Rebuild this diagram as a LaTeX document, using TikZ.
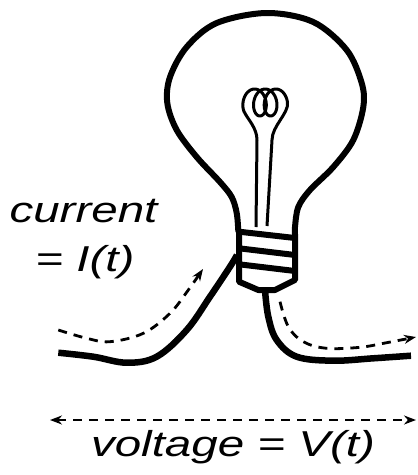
\documentclass[tikz,border=0pt]{standalone}
\usepackage{fontspec}
\setmainfont{Liberation Sans}
\usetikzlibrary{arrows.meta}
\tikzset{ftip/.tip={Stealth[length=12pt,width=9pt]}}
\begin{document}
\begin{tikzpicture}[x=1pt,y=-1pt,
  outline/.style={line width=6pt, line join=round, line cap=round},
  wire/.style={line width=6.5pt, line cap=butt},
  fil/.style={line width=3pt, line cap=butt, line join=round},
  flow/.style={line width=2.8pt, dash pattern=on 9pt off 7pt},
  txt/.style={font=\fontsize{36}{42}\selectfont\itshape, anchor=base, inner sep=0pt}]
\useasboundingbox (0,0) rectangle (418,475);

% glass envelope
\draw[outline] plot[smooth, tension=0.55] coordinates {
  (238.3,231) (236.7,213) (231.7,197) (220,182) (196.7,157) (176.7,130)
  (167.3,103) (170,77) (186.7,47) (216.7,23) (266.7,13) (313.3,22)
  (346.7,50) (361.7,83) (363.3,107) (353.3,140) (333.3,167) (310,190)
  (298.3,207) (295,227) (295,236)};

% screw base
\draw[outline, line cap=butt]
  (239,229) -- (239,281.7) -- (258.3,290) -- (275,290) -- (295,280) -- (295,234);
\draw[outline, line cap=butt] (239,231.7) -- (295,238);
\draw[outline, line cap=butt] (239,248.3) -- (295,255);
\draw[outline, line cap=butt] (239,264.3) -- (295,271);

% filament: two support posts and a looped coil between them
\draw[fil] (256,227) -- (257,140)
  .. controls (257,128) and (248,119.6) .. (244.3,112)
  -- plot[smooth, samples=120, domain=-0.785:15.708]
     ({251.9+1.7*\x-8.9*cos(\x r)}, {102.5-13.5*sin(\x r)})
  .. controls (288.9,113.3) and (272,126) .. (272,140) -- (267,226);

% lead wires
\coordinate (lwA) at (58.3,352.7);
\coordinate (lwB) at (237,255);
\coordinate (rwA) at (265,290);
\coordinate (rwB) at (411,355.7);
\draw[wire] plot[smooth, tension=0.6] coordinates {
  (lwA) (93.3,356.7) (126.7,362.7) (156.7,356.7) (186.7,330)
  (210,296.7) (230,266.7) (lwB)};
\draw[wire] plot[smooth, tension=0.6] coordinates {
  (rwA) (268.3,316.7) (276.7,340) (296.7,356.7) (333.3,360.7)
  (373.3,358.3) (rwB)};

% current flow
\coordinate (ciA) at (58.3,330);
\coordinate (ciB) at (203,269);
\coordinate (coA) at (280,301.7);
\coordinate (coB) at (416,337);
\draw[flow, -{ftip}] plot[smooth, tension=0.6] coordinates {
  (ciA) (86.7,338.3) (110,341.7) (143.3,333.3) (170,313.3) (188.3,290) (ciB)};
\draw[flow, -{ftip}] plot[smooth, tension=0.6] coordinates {
  (coA) (288.3,326.7) (303.3,341.7) (326.7,348.3) (360,347.3)
  (386.7,342.7) (coB)};

% voltage across the lamp
\coordinate (vL) at (50,420);
\coordinate (vR) at (416,420);
\draw[flow, {ftip}-{ftip}] (vL) -- (vR);

% labels
\node[txt] (cur) at (83.5,222) {\scalebox{1.32}[1]{current}};
\node[txt] (curval) at (85,271) {\scalebox{1.32}[1]{= I(t)}};
\node[txt] (volt) at (233,456) {\scalebox{1.32}[1]{voltage = V(t)}};
\end{tikzpicture}
\end{document}
